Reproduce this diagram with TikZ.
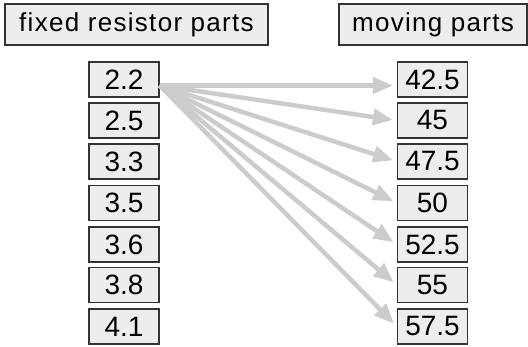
\documentclass[tikz,border=0pt]{standalone}
\usepackage{fontspec}
\setmainfont{Liberation Sans}
\usetikzlibrary{arrows.meta}

\tikzset{
  part/.style={draw=black!80, fill=black!7, line width=1.3pt, inner sep=0pt,
    minimum width=70pt, minimum height=35pt, font=\fontsize{28}{30}\selectfont},
  head/.style={draw=black!80, fill=black!7, line width=1.3pt, inner sep=0pt,
    minimum height=41pt, font=\addfontfeature{LetterSpace=5}\fontsize{26}{28}\selectfont},
  arr/.style={draw=black!20, line width=4.5pt, shorten >=4pt,
    -{Triangle[length=20pt,width=16pt]}}
}

\begin{document}
\begin{tikzpicture}[x={1pt},y={1pt}]
\useasboundingbox (0,0) rectangle (528,347);

\node [head, minimum width=263pt] (fixed) at (136.5,322.5) {fixed resistor parts};
\node [head, minimum width=188pt] (moving) at (433,322.5) {moving parts};

\node [part] (a1) at (124,267.5) {2.2};
\node [part] (a2) at (124,226.5) {2.5};
\node [part] (a3) at (124,185.5) {3.3};
\node [part] (a4) at (124,144) {3.5};
\node [part] (a5) at (124,102.5) {3.6};
\node [part] (a6) at (124,62) {3.8};
\node [part] (a7) at (124,20.5) {4.1};

\node [part] (b1) at (432.5,267.5) {42.5};
\node [part] (b2) at (432.5,226.5) {45};
\node [part] (b3) at (432.5,185.5) {47.5};
\node [part] (b4) at (432.5,144) {50};
\node [part] (b5) at (432.5,102.5) {52.5};
\node [part] (b6) at (432.5,62) {55};
\node [part] (b7) at (432.5,20.5) {57.5};

\coordinate (s) at ([yshift=-6pt]a1.east);
\draw [arr] (s) -- (s -| b1.west);
\draw [arr] (s) -- (b2.west);
\draw [arr] (s) -- (b3.west);
\draw [arr] (s) -- (b4.west);
\draw [arr] (s) -- (b5.west);
\draw [arr] (s) -- (b6.west);
\draw [arr] (s) -- (b7.west);

\end{tikzpicture}
\end{document}
